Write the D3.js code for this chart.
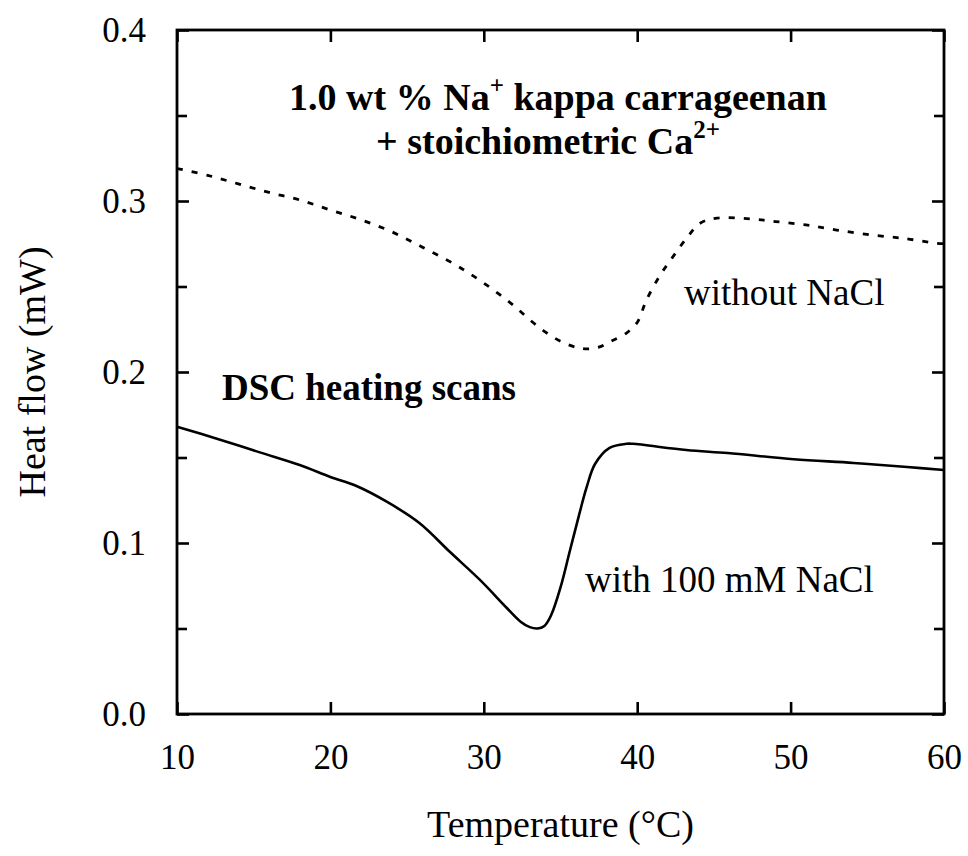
<!DOCTYPE html>
<html>
<head>
<meta charset="utf-8">
<script src="https://cdn.jsdelivr.net/npm/d3@7/dist/d3.min.js"></script>
<style>
  html, body { margin: 0; padding: 0; background: #fff; }
  svg text { font-family: "Liberation Serif", "Times New Roman", Times, serif; fill: #000; }
</style>
</head>
<body>
<svg id="chart" width="968" height="856"></svg>
<script>
// ---- data ----
const xTicks = [10, 20, 30, 40, 50, 60];
const yTicks = [0.0, 0.1, 0.2, 0.3, 0.4];
const yMinorTicks = [0.05, 0.15, 0.25, 0.35];

// without NaCl (dashed)
const tempWithout = [10, 12, 14, 16, 18, 20, 22, 24, 26, 28, 29, 30, 31, 32, 33, 34, 35, 36, 36.7, 37.5, 38.3, 39.3, 40, 40.6, 41.5, 42.3, 43.2, 44.1, 45.2, 47.4, 49, 51, 53, 55.4, 57.5, 59.3, 60];
const heatWithout = [0.319, 0.315, 0.310, 0.305, 0.3006, 0.2947, 0.289, 0.282, 0.273, 0.2635, 0.258, 0.252, 0.2455, 0.2385, 0.2305, 0.2235, 0.218, 0.2145, 0.2135, 0.2145, 0.218, 0.2228, 0.229, 0.242, 0.2567, 0.267, 0.278, 0.287, 0.290, 0.2895, 0.288, 0.286, 0.283, 0.280, 0.278, 0.2755, 0.275];

// with 100 mM NaCl (solid)
const tempWith = [10, 12.6, 15.4, 18, 20, 21.7, 23.7, 25.8, 27.8, 29.75, 31.5, 32.4, 33.0, 33.5, 33.95, 34.4, 35.0, 35.6, 36.2, 36.7, 37.25, 38.2, 39.3, 39.7, 43.2, 45.9, 50.2, 54.1, 57.6, 60];
const heatWith = [0.168, 0.161, 0.153, 0.1456, 0.1386, 0.1333, 0.124, 0.1117, 0.0947, 0.0784, 0.062, 0.054, 0.0508, 0.0500, 0.0515, 0.058, 0.074, 0.095, 0.116, 0.1325, 0.1462, 0.1556, 0.158, 0.158, 0.1544, 0.1526, 0.149, 0.1468, 0.1444, 0.1427];

// ---- layout ----
const svg = d3.select("#chart");
const L = 177, R = 944, T = 30, B = 714;
const x = d3.scaleLinear().domain([10, 60]).range([L, R]);
const y = d3.scaleLinear().domain([0, 0.4]).range([B, T]);

const font = '"Liberation Serif", "Times New Roman", Times, serif';

function styleAxis(g) {
  g.select(".domain").remove();
  g.selectAll(".tick line").attr("stroke", "#000").attr("stroke-width", 2.6);
  g.selectAll(".tick text").attr("font-size", 35).attr("font-family", font).attr("fill", "#000");
}

// bottom axis with labels
svg.append("g").attr("transform", `translate(0,${B})`)
  .call(d3.axisBottom(x).tickValues(xTicks).tickSize(-12).tickPadding(30).tickFormat(d3.format("d")))
  .call(styleAxis);
// top axis ticks
svg.append("g").attr("transform", `translate(0,${T})`)
  .call(d3.axisTop(x).tickValues(xTicks).tickSize(-12).tickFormat(""))
  .call(styleAxis);
// left axis
svg.append("g").attr("transform", `translate(${L},0)`)
  .call(d3.axisLeft(y).tickValues(yTicks).tickSize(-12).tickPadding(31).tickFormat(d3.format(".1f")))
  .call(styleAxis);
svg.append("g").attr("transform", `translate(${L},0)`)
  .call(d3.axisLeft(y).tickValues(yMinorTicks).tickSize(-10).tickFormat(""))
  .call(styleAxis);
// right axis
svg.append("g").attr("transform", `translate(${R},0)`)
  .call(d3.axisRight(y).tickValues(yTicks).tickSize(-12).tickFormat(""))
  .call(styleAxis);
svg.append("g").attr("transform", `translate(${R},0)`)
  .call(d3.axisRight(y).tickValues(yMinorTicks).tickSize(-10).tickFormat(""))
  .call(styleAxis);

// frame
svg.append("rect")
  .attr("x", x(10)).attr("y", y(0.4))
  .attr("width", x(60) - x(10)).attr("height", y(0) - y(0.4))
  .attr("fill", "none").attr("stroke", "#000").attr("stroke-width", 2.8);

// lines
const line = d3.line().x(d => x(d[0])).y(d => y(d[1])).curve(d3.curveCatmullRom.alpha(0.5));
const dataWithout = tempWithout.map((t, i) => [t, heatWithout[i]]);
const dataWith = tempWith.map((t, i) => [t, heatWith[i]]);

svg.append("path").datum(dataWithout).attr("d", line)
  .attr("fill", "none").attr("stroke", "#000").attr("stroke-width", 2.8)
  .attr("stroke-dasharray", "6,9");
svg.append("path").datum(dataWith).attr("d", line)
  .attr("fill", "none").attr("stroke", "#000").attr("stroke-width", 2.6);

// axis titles
svg.append("text").attr("x", (L + R) / 2).attr("y", 837)
  .attr("text-anchor", "middle").attr("font-size", 38).text("Temperature (°C)");
svg.append("text").attr("transform", `translate(45,${(T + B) / 2}) rotate(-90)`)
  .attr("text-anchor", "middle").attr("font-size", 38).text("Heat flow (mW)");

// annotations
const t1 = svg.append("text").attr("x", 558).attr("y", 110)
  .attr("text-anchor", "middle").attr("font-size", 38).attr("font-weight", "bold");
t1.append("tspan").text("1.0 wt % Na");
t1.append("tspan").attr("font-size", 25).attr("dy", -16).text("+");
t1.append("tspan").attr("dy", 16).text(" kappa carrageenan");

const t2 = svg.append("text").attr("x", 548).attr("y", 154)
  .attr("text-anchor", "middle").attr("font-size", 38).attr("font-weight", "bold");
t2.append("tspan").text("+ stoichiometric Ca");
t2.append("tspan").attr("font-size", 25).attr("dy", -16).text("2+");

svg.append("text").attr("x", 222).attr("y", 400)
  .attr("font-size", 37).attr("font-weight", "bold").text("DSC heating scans");
svg.append("text").attr("x", 684).attr("y", 305)
  .attr("font-size", 37).text("without NaCl");
svg.append("text").attr("x", 585).attr("y", 592)
  .attr("font-size", 37).text("with 100 mM NaCl");
</script>
</body>
</html>
